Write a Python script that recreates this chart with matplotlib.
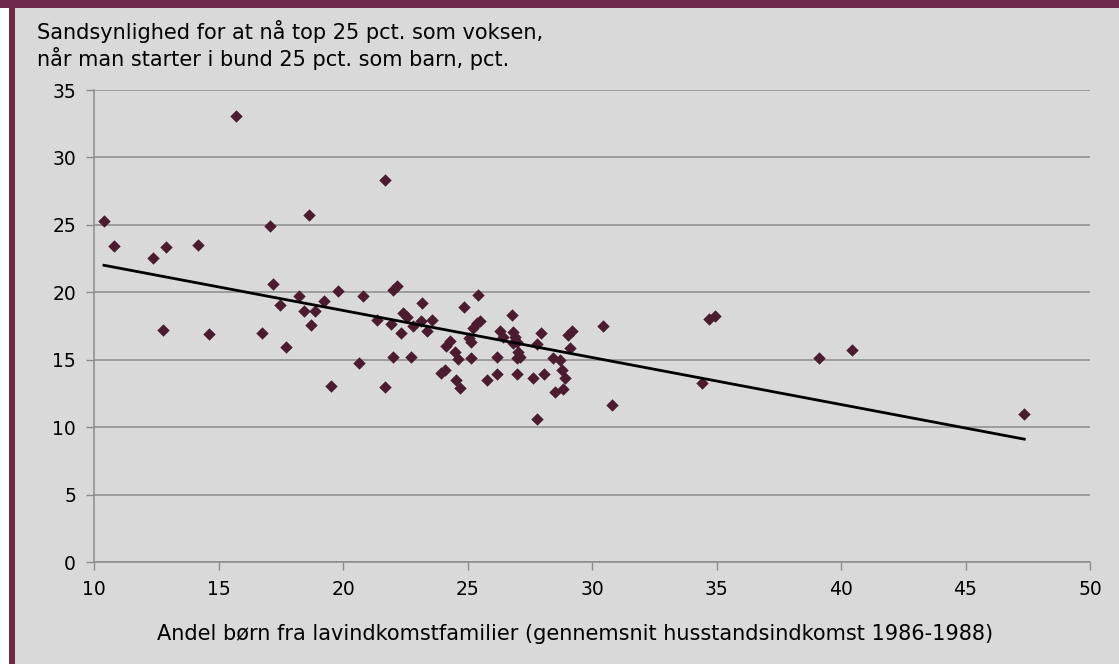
import numpy as np
import matplotlib
matplotlib.use('Agg')
import matplotlib.pyplot as plt
from matplotlib.patches import Rectangle

# andel børn fra lavindkomstfamilier (x) og sandsynlighed for top 25 pct. (y)
andel = [10.40, 10.80, 12.36, 12.89, 14.18, 15.70, 12.78, 14.63, 16.76, 17.08,
         17.20, 17.47, 17.70, 18.25, 18.42, 18.65, 18.71, 18.86, 19.22, 19.52,
         19.79, 20.64, 20.82, 21.35, 21.67, 21.70, 21.92, 22.00, 22.02, 22.15,
         22.32, 22.42, 22.56, 22.74, 22.80, 23.12, 23.19, 23.39, 23.56, 23.92,
         24.08, 24.12, 24.30, 24.50, 24.54, 24.63, 24.70, 24.86, 25.13, 25.05,
         25.15, 25.23, 25.37, 25.41, 25.50, 25.77, 26.20, 26.20, 26.31, 26.42,
         26.77, 26.84, 26.91, 26.97, 27.04, 27.11, 27.00, 26.84, 26.97, 27.64,
         27.78, 27.80, 27.95, 28.09, 28.45, 28.51, 28.71, 28.80, 28.90, 28.85,
         29.05, 29.18, 29.12, 30.43, 30.79, 34.43, 34.69, 34.94, 39.13, 40.44,
         47.36]
sandsynlighed = [25.27, 23.43, 22.56, 23.33, 23.53, 33.07, 17.20, 16.90, 17.00, 24.91,
                 20.63, 19.03, 15.96, 19.72, 18.63, 25.73, 17.54, 18.63, 19.35, 13.04,
                 20.07, 14.75, 19.74, 17.94, 12.99, 28.30, 17.62, 15.22, 20.16, 20.45,
                 16.95, 18.48, 18.18, 15.22, 17.50, 17.85, 19.17, 17.14, 17.94, 13.98,
                 14.25, 16.05, 16.40, 15.59, 13.49, 15.03, 12.87, 18.88, 15.10, 16.60,
                 16.30, 17.32, 17.69, 19.79, 17.89, 13.49, 15.22, 13.93, 17.10, 16.70,
                 18.28, 17.07, 16.70, 16.33, 15.59, 15.22, 13.93, 16.21, 15.10, 13.63,
                 16.18, 10.57, 16.95, 13.92, 15.15, 12.62, 14.97, 14.25, 13.65, 12.80,
                 16.80, 17.10, 15.84, 17.50, 11.63, 13.24, 17.99, 18.23, 15.14, 15.71,
                 10.96]

x_ticks = [10, 15, 20, 25, 30, 35, 40, 45, 50]
y_ticks = [0, 5, 10, 15, 20, 25, 30, 35]

baggrund = '#d9d9d9'
ramme = '#6d2a48'
punkt = '#4b1b30'
gitter = '#8c8c8c'

plt.rcParams['font.family'] = ['DejaVu Sans']

fig = plt.figure(figsize=(11.19, 6.64), dpi=100)
fig.patch.set_facecolor(baggrund)

# rammen: bjælke foroven og stribe til venstre
fig.patches.append(Rectangle((0, 0), 9 / 1119, 1, transform=fig.transFigure,
                             facecolor='white', edgecolor='none', zorder=0))
fig.patches.append(Rectangle((9 / 1119, 0), 6 / 1119, 1, transform=fig.transFigure,
                             facecolor=ramme, edgecolor='none', zorder=1))
fig.patches.append(Rectangle((0, 1 - 8 / 664), 1, 8 / 664, transform=fig.transFigure,
                             facecolor=ramme, edgecolor='none', zorder=1))

ax = fig.add_axes([94 / 1119, 1 - 562 / 664, (1090 - 94) / 1119, (562 - 90) / 664])
ax.set_facecolor(baggrund)

ax.scatter(andel, sandsynlighed, marker='D', s=40, color=punkt, linewidths=0, zorder=3)

# lineær tendenslinje
x = np.array(andel)
y = np.array(sandsynlighed)
a, b = np.polyfit(x, y, 1)
xs = np.array([x.min(), x.max()])
ax.plot(xs, a * xs + b, color='black', linewidth=2, zorder=4)

ax.set_xlim(10, 50)
ax.set_ylim(0, 35)
ax.set_xticks(x_ticks)
ax.set_yticks(y_ticks)
ax.tick_params(axis='both', labelsize=13.5, colors=gitter, labelcolor='black',
               length=6, width=1, direction='out', pad=7)
ax.yaxis.grid(True, color=gitter, linewidth=1.1)
ax.set_axisbelow(True)
for s in ['top', 'right']:
    ax.spines[s].set_visible(False)
for s in ['left', 'bottom']:
    ax.spines[s].set_color(gitter)
    ax.spines[s].set_linewidth(1.1)

fig.text(37 / 1119, 1 - 20 / 664,
         'Sandsynlighed for at nå top 25 pct. som voksen,\nnår man starter i bund 25 pct. som barn, pct.',
         ha='left', va='top', fontsize=15, linespacing=1.2)
fig.text(575 / 1119, 1 - 634 / 664,
         'Andel børn fra lavindkomstfamilier (gennemsnit husstandsindkomst 1986-1988)',
         ha='center', va='center', fontsize=15)

fig.savefig('out.png', dpi=100, facecolor=fig.get_facecolor())
